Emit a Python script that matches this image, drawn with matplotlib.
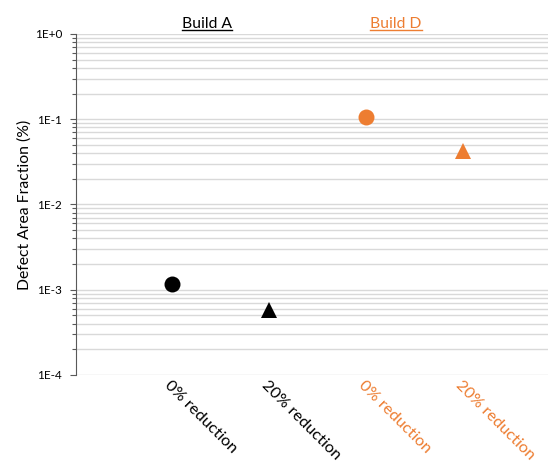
import numpy as np
import matplotlib.pyplot as plt
from matplotlib.lines import Line2D
from matplotlib.ticker import LogLocator, FixedLocator, NullFormatter

plt.rcParams['font.family'] = ['Lato', 'DejaVu Sans']

# defect area fraction (%) per build / reduction level
builds = ['Build A', 'Build D']
reductions = ['0% reduction', '20% reduction']
build_a = [1.17e-3, 5.8e-4]
build_d = [0.105, 0.0424]
markers = ['o', '^']
orange = '#ED7D31'
colors = ['black', orange]

fig = plt.figure(figsize=(5.48, 4.66), dpi=100)
ax = fig.add_axes([0.1387, 0.1953, 0.8613, 0.7318])

xpos = [1, 2, 3, 4]
vals = build_a + build_d
for i, (x, v) in enumerate(zip(xpos, vals)):
    ax.plot(x, v, linestyle='none', marker=markers[i % 2],
            markersize=11.5, color=colors[i // 2], markeredgewidth=0)

ax.set_yscale('log')
ax.set_ylim(1e-4, 1)
ax.set_xlim(0.01, 4.876)

ax.yaxis.set_major_locator(FixedLocator([1e-4, 1e-3, 1e-2, 1e-1, 1]))
ax.yaxis.set_minor_locator(LogLocator(base=10, subs=np.arange(2, 10)))
ax.yaxis.set_minor_formatter(NullFormatter())
ax.set_yticklabels(['1E-4', '1E-3', '1E-2', '1E-1', '1E+0'])
ax.grid(True, which='both', axis='y', color='#d9d9d9', linewidth=1.0)
ax.set_axisbelow(True)

ax.tick_params(axis='y', which='major', length=4, width=0.8, color='#595959',
               labelsize=8.5, pad=6)
ax.tick_params(axis='y', which='minor', length=3, width=0.8, color='#595959')
ax.set_xticks([])

for s in ['top', 'right', 'bottom']:
    ax.spines[s].set_visible(False)
ax.spines['left'].set_color('#595959')
ax.spines['left'].set_linewidth(0.8)

ax.set_ylabel('Defect Area Fraction (%)', fontsize=11.3, labelpad=2)

# rotated category labels under the axis
for i, x in enumerate(xpos):
    ax.text(x - 0.0, -0.01, reductions[i % 2], transform=ax.get_xaxis_transform(),
            rotation=-45, rotation_mode='anchor', ha='left', va='top',
            fontsize=11.8, color=colors[i // 2])

# underlined build headings
titles = []
for name, xc, c in zip(builds, [1.36, 3.31], colors):
    t = ax.text(xc, 1.009, name, transform=ax.get_xaxis_transform(),
                ha='center', va='bottom', fontsize=11.3, color=c)
    titles.append((t, c))

fig.canvas.draw()
renderer = fig.canvas.get_renderer()
for t, c in titles:
    bb = t.get_window_extent(renderer)
    y = bb.y0 + 1
    fig.add_artist(Line2D([bb.x0 / fig.bbox.width, bb.x1 / fig.bbox.width],
                          [y / fig.bbox.height, y / fig.bbox.height],
                          transform=fig.transFigure, color=c, linewidth=1.0))

fig.savefig('out.png', dpi=100)
